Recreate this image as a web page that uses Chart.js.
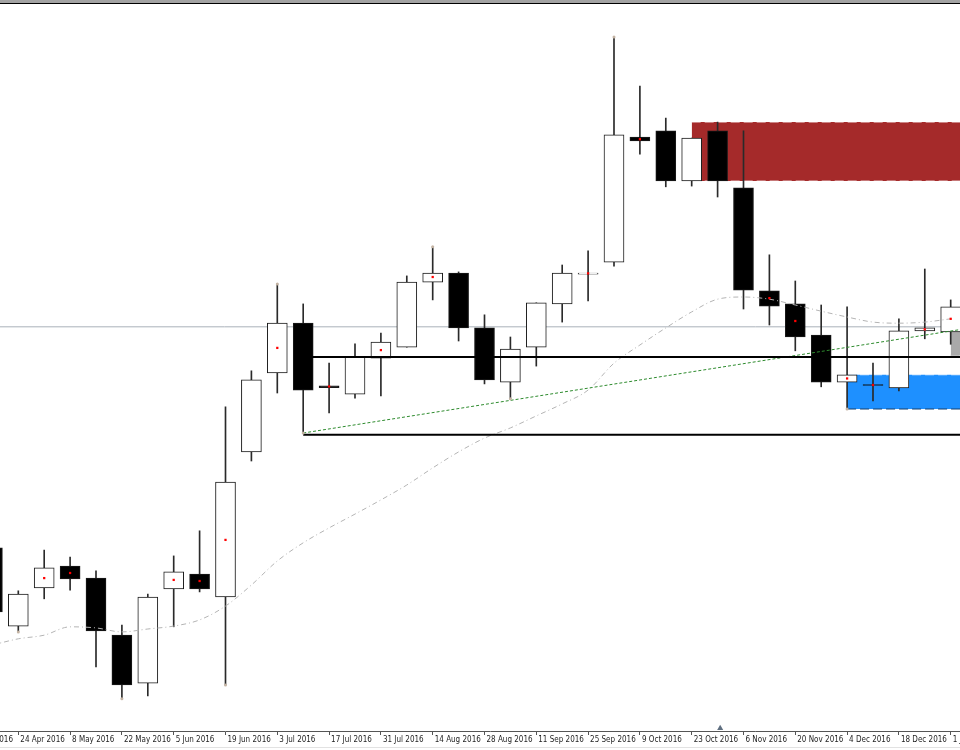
<!DOCTYPE html>
<html>
<head>
<meta charset="utf-8">
<script src="https://cdn.jsdelivr.net/npm/chart.js@4.4.1/dist/chart.umd.min.js"></script>
<style>
    html, body { margin: 0; padding: 0; background: #fff; overflow: hidden; width: 960px; height: 750px; }
    #marcoArriba { position: absolute; left: 0; top: 0; width: 960px; height: 3px; background: #a3a3a3; border-bottom: 1px solid #000; z-index: 2; }
    #marcoAbajo { position: absolute; left: 0; top: 747px; width: 960px; height: 1px; background: #e2e2e2; }
    #grafico { position: absolute; left: -40px; top: 0; }
</style>
</head>
<body>
<div id="marcoArriba"></div>
<canvas id="grafico" width="1060" height="750"></canvas>
<div id="marcoAbajo"></div>
<script>
// velas semanales (indice de semana, 0 = 24 Apr 2016)
const semanas = [-1, 0, 1, 2, 3, 4, 5, 6, 7, 8, 9, 10, 11, 12, 13, 14, 15, 16, 17, 18,
    19, 20, 21, 22, 23, 24, 25, 26, 27, 28, 29, 30, 31, 32, 33, 34, 35, 36];
const aperturas = [0.8010, 0.7795, 0.7900, 0.7960, 0.7927, 0.7770, 0.7638, 0.7897, 0.7938, 0.7875,
    0.8274, 0.8491, 0.8628, 0.8456, 0.8433, 0.8532, 0.8562, 0.8741, 0.8766, 0.8615,
    0.8466, 0.8562, 0.8681, 0.8763, 0.8796, 0.9140, 0.9157, 0.9019, 0.9157, 0.9000,
    0.8717, 0.8681, 0.8595, 0.8466, 0.8459, 0.8450, 0.8607, 0.8604];
const maximos = [0.8032, 0.7892, 0.8004, 0.7985, 0.7947, 0.7798, 0.7883, 0.7988, 0.8057, 0.8398,
    0.8497, 0.8736, 0.8681, 0.8518, 0.8571, 0.8601, 0.8758, 0.8838, 0.8769, 0.8651,
    0.8590, 0.8684, 0.8788, 0.8827, 0.9415, 0.9280, 0.9192, 0.9137, 0.9181, 0.9157,
    0.8816, 0.8744, 0.8678, 0.8673, 0.8518, 0.8640, 0.8777, 0.8692];
const minimos = [0.7812, 0.7779, 0.7870, 0.7894, 0.7683, 0.7595, 0.7603, 0.7793, 0.7889, 0.7633,
    0.8249, 0.8436, 0.8326, 0.8381, 0.8422, 0.8428, 0.8562, 0.8692, 0.8579, 0.8461,
    0.8420, 0.8510, 0.8631, 0.8689, 0.8785, 0.9093, 0.9003, 0.9005, 0.8975, 0.8667,
    0.8623, 0.8552, 0.8453, 0.8392, 0.8414, 0.8442, 0.8585, 0.8570];
const cierres = [0.7834, 0.7883, 0.7955, 0.7925, 0.7782, 0.7633, 0.7875, 0.7944, 0.7897, 0.8191,
    0.8472, 0.8628, 0.8444, 0.8451, 0.8535, 0.8576, 0.8741, 0.8766, 0.8615, 0.8472,
    0.8557, 0.8684, 0.8766, 0.8766, 0.9146, 0.9129, 0.9019, 0.9137, 0.9019, 0.8719,
    0.8675, 0.8590, 0.8466, 0.8486, 0.8457, 0.8607, 0.8615, 0.8673];

// media movil (linea gris punteada)
const media = [0.7743, 0.7760, 0.7770, 0.7793, 0.7790, 0.7779, 0.7787, 0.7795, 0.7812, 0.7850,
    0.7908, 0.7974, 0.8024, 0.8065, 0.8103, 0.8142, 0.8183, 0.8230, 0.8274, 0.8312,
    0.8340, 0.8373, 0.8406, 0.8444, 0.8518, 0.8568, 0.8615, 0.8659, 0.8694, 0.8700,
    0.8694, 0.8678, 0.8661, 0.8645, 0.8631, 0.8628, 0.8631, 0.8640];

// puntos rojos
const puntosSemanas = [1, 2, 6, 7, 8, 10, 12, 14, 16, 22, 24, 29, 30, 32, 33, 35, 36];
const puntosValores = [0.7927, 0.7941, 0.7922, 0.7919, 0.8032, 0.8560, 0.8454, 0.8554, 0.8755,
    0.8765, 0.9134, 0.8697, 0.8634, 0.8476, 0.8458, 0.8611, 0.8640];

// fractales
const fractalSemanas = [0, 4, 8, 10, 11, 16, 19, 23, 32];
const fractalValores = [0.7779, 0.7595, 0.7633, 0.8736, 0.8326, 0.8838, 0.8420, 0.9415, 0.8392];

// objetos dibujados
const lineaBid = 0.8618;
const nivelesSemana = 11;
const niveles = [0.8535, 0.8321];
const tendenciaSemanas = [11, 39];
const tendenciaValores = [0.8326, 0.8640];
const zonaRoja = [26, 0.9181, 0.9019];
const zonaAzul = [32, 0.8486, 0.8392];
const zonaGris = [36, 0.8604, 0.8540];
const finZonas = 39;
const marcaDesplazamiento = [27.1, 0.7514];

// eje x
const tickSemanas = [-2, 0, 2, 4, 6, 8, 10, 12, 14, 16, 18, 20, 22, 24, 26, 28, 30, 32, 34, 36];
const tickEtiquetas = ['10 Apr 2016', '24 Apr 2016', '8 May 2016', '22 May 2016', '5 Jun 2016',
    '19 Jun 2016', '3 Jul 2016', '17 Jul 2016', '31 Jul 2016', '14 Aug 2016', '28 Aug 2016',
    '11 Sep 2016', '25 Sep 2016', '9 Oct 2016', '23 Oct 2016', '6 Nov 2016', '20 Nov 2016',
    '4 Dec 2016', '18 Dec 2016', '1 Jan 2017'];

function tramo(x1, x2, y1, y2) {
    return [{ x: x1, y: y1 }, { x: x2, y: y2 }];
}

function zona(z, color, bordeArriba, bordeAbajo) {
    return [
        { type: 'line', data: tramo(z[0], finZonas, z[1], z[1]), borderColor: bordeArriba, borderWidth: 1, borderDash: [9, 4], pointRadius: 0, order: 5 },
        { type: 'line', data: tramo(z[0], finZonas, z[2], z[2]), borderColor: bordeAbajo, borderWidth: 1, borderDash: [9, 4], pointRadius: 0, fill: '-1', backgroundColor: color, order: 5 }
    ];
}

let colores = [];
semanas.forEach((s, i) => {
    colores.push(cierres[i] >= aperturas[i] ? '#ffffff' : '#000000');
});

let datasets = [];

// linea gris horizontal
datasets.push({ type: 'line', data: tramo(-3, finZonas, lineaBid, lineaBid), borderColor: '#a9b1b9', borderWidth: 1, pointRadius: 0, order: 6 });

// rectangulos
datasets = datasets.concat(zona(zonaRoja, '#a52a2a', 'rgba(255,255,255,0.75)', 'rgba(255,255,255,0.75)'));
datasets = datasets.concat(zona(zonaAzul, '#1e90ff', 'rgba(255,255,255,0.7)', '#14406e'));
datasets = datasets.concat(zona(zonaGris, '#a9a9a9', '#a9a9a9', '#a9a9a9'));

// mechas y cuerpos
datasets.push({
    type: 'bar',
    data: semanas.map((s, i) => ({ x: s, y: [minimos[i], maximos[i]] })),
    backgroundColor: '#2a2a2a', borderWidth: 0, barThickness: 1, grouped: false, order: 4
});
datasets.push({
    type: 'bar',
    data: semanas.map((s, i) => ({ x: s, y: [aperturas[i], cierres[i]] })),
    backgroundColor: colores, borderColor: '#1a1a1a', borderWidth: 1, borderSkipped: false,
    barThickness: 20, grouped: false, order: 3
});

// media movil
datasets.push({
    type: 'line', data: semanas.map((s, i) => ({ x: s, y: media[i] })),
    borderColor: '#b4b4b4', borderWidth: 1, borderDash: [5, 3, 1, 3], pointRadius: 0,
    cubicInterpolationMode: 'monotone', order: 2
});

// niveles negros y tendencia verde
niveles.forEach(n => {
    datasets.push({ type: 'line', data: tramo(nivelesSemana, finZonas, n, n), borderColor: '#000', borderWidth: 2, pointRadius: 0, order: 1 });
});
datasets.push({
    type: 'line', data: tramo(tendenciaSemanas[0], tendenciaSemanas[1], tendenciaValores[0], tendenciaValores[1]),
    borderColor: '#2e8b2e', borderWidth: 1, borderDash: [3, 2], pointRadius: 0, order: 1
});

// puntos
datasets.push({
    type: 'scatter', data: puntosSemanas.map((s, i) => ({ x: s, y: puntosValores[i] })),
    pointStyle: 'rect', pointRadius: 1.6, backgroundColor: '#ff0000', borderWidth: 0, order: 0
});
datasets.push({
    type: 'scatter', data: fractalSemanas.map((s, i) => ({ x: s, y: fractalValores[i] })),
    pointRadius: 1.5, backgroundColor: '#c4b4a4', borderWidth: 0, order: 0
});
datasets.push({
    type: 'scatter', data: [{ x: marcaDesplazamiento[0], y: marcaDesplazamiento[1] }],
    pointStyle: 'triangle', pointRadius: 3.5, backgroundColor: '#5f6f80', borderWidth: 0, clip: false, order: 0
});

const ctx = document.getElementById('grafico');
new Chart(ctx, {
    type: 'line',
    data: { datasets: datasets },
    options: {
        responsive: false,
        animation: false,
        events: [],
        layout: { autoPadding: false, padding: { top: 5, left: 0, right: 0, bottom: 0 } },
        plugins: { legend: { display: false }, tooltip: { enabled: false } },
        scales: {
            x: {
                type: 'linear', min: -2.251, max: 38.676, offset: false, bounds: 'data',
                afterBuildTicks: function (scale) {
                    scale.ticks = tickSemanas.map(v => ({ value: v }));
                },
                afterFit: function (scale) {
                    scale.height = 19;
                },
                ticks: {
                    autoSkip: false, maxRotation: 0, align: 'start', labelOffset: 2, padding: 0,
                    color: '#1e1e1e',
                    font: { family: "'DejaVu Sans Condensed', 'Liberation Sans', Arial, sans-serif", size: 8 },
                    callback: function (value) {
                        let i = tickSemanas.indexOf(value);
                        return i >= 0 ? tickEtiquetas[i] : '';
                    }
                },
                grid: { offset: false, drawOnChartArea: false, drawTicks: true, tickLength: 4, color: '#555' },
                border: { display: true, color: '#555', width: 1 }
            },
            y: { type: 'linear', display: false, min: 0.75065, max: 0.9503 }
        }
    }
});
</script>
</body>
</html>
